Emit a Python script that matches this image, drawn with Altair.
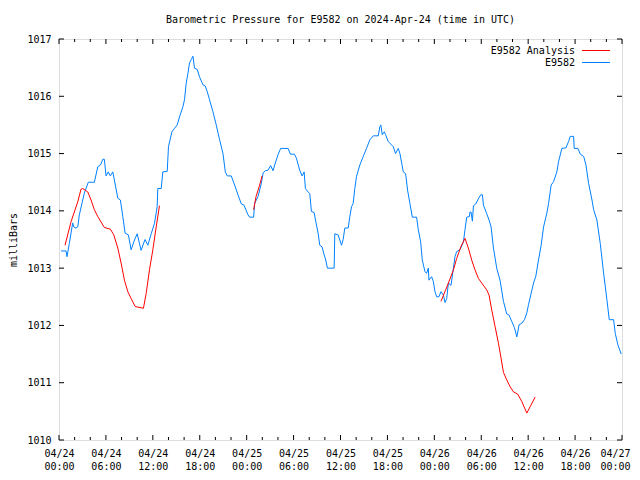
import altair as alt
import pandas as pd

# ---- data (hours since 2024-04-24 00:00 UTC, pressure in mb) ----
blue_hours = [0.26, 0.9, 1.02, 1.32, 1.75, 1.88, 2.18, 2.4, 2.6, 3.04, 3.24, 3.75, 4.52, 4.96, 5.3, 5.6, 5.8,
              6.02, 6.3, 6.57, 6.88, 7.08, 7.52, 7.85, 8.16, 8.46, 8.88, 9.22, 9.65, 10.0, 10.5, 11.0, 11.36,
              11.79, 12.21, 12.55, 12.64, 13.07, 13.28, 13.84, 14.0, 14.44, 14.77, 15.12, 15.41, 15.85, 16.05,
              16.27, 16.49, 16.69, 16.91, 17.13, 17.33, 17.68, 17.97, 18.41, 18.7, 18.96, 19.25, 19.69, 20.11,
              20.54, 20.97, 21.27, 21.52, 22.03, 22.46, 22.89, 23.32, 23.66, 24.17, 24.38, 24.89, 25.02, 25.45,
              25.88, 26.1, 26.39, 26.73, 27.07, 27.37, 27.58, 28.01, 28.35, 29.3, 29.59, 30.1, 30.36, 30.78,
              31.09, 31.35, 31.51, 31.86, 32.07, 32.28, 32.63, 32.8, 33.14, 33.35, 33.65, 33.91, 34.08, 34.33,
              35.19, 35.27, 35.7, 36.13, 36.34, 36.55, 36.99, 37.19, 37.41, 37.62, 37.83, 38.05, 38.47, 38.91,
              39.33, 39.75, 40.19, 40.83, 41.03, 41.16, 41.34, 41.6, 41.76, 42.11, 42.75, 43.04, 43.39, 43.6,
              44.03, 44.33, 44.58, 44.88, 45.18, 45.73, 45.95, 46.25, 46.46, 46.8, 47.01, 47.23, 47.31, 47.65,
              47.87, 48.08, 48.3, 48.59, 48.85, 49.16, 49.37, 49.58, 49.8, 50.13, 50.44, 50.64, 50.86, 51.28,
              51.72, 51.92, 52.14, 52.48, 52.56, 52.69, 52.87, 53.0, 53.3, 53.55, 53.93, 54.15, 54.28, 54.7,
              55.0, 55.26, 55.56, 55.98, 56.4, 56.84, 57.26, 57.56, 57.9, 58.25, 58.55, 58.84, 59.19, 59.53,
              59.83, 60.04, 60.38, 60.69, 60.98, 61.32, 61.66, 61.97, 62.39, 62.61, 62.94, 63.25, 63.67, 63.89,
              64.31, 64.83, 65.17, 65.38, 65.81, 65.89, 66.36, 66.66, 67.1, 67.39, 67.73, 68.16, 68.37, 68.79,
              69.22, 69.65, 70.07, 70.37, 70.93, 71.14, 71.48, 71.9]
blue_mb = [1013.30, 1013.30, 1013.20, 1013.43, 1013.79, 1013.72, 1013.70, 1013.72, 1013.93, 1014.19, 1014.31,
           1014.50, 1014.50, 1014.77, 1014.80, 1014.90, 1014.90, 1014.61, 1014.68, 1014.61, 1014.68, 1014.54,
           1014.22, 1014.19, 1013.90, 1013.61, 1013.58, 1013.32, 1013.49, 1013.60, 1013.31, 1013.50, 1013.40,
           1013.60, 1013.78, 1014.07, 1014.39, 1014.39, 1014.68, 1014.69, 1015.12, 1015.38, 1015.44, 1015.50,
           1015.64, 1015.82, 1015.94, 1016.23, 1016.40, 1016.58, 1016.64, 1016.70, 1016.49, 1016.47, 1016.34,
           1016.20, 1016.18, 1016.08, 1015.94, 1015.73, 1015.50, 1015.24, 1015.00, 1014.68, 1014.61, 1014.61,
           1014.45, 1014.28, 1014.12, 1014.10, 1013.93, 1013.89, 1013.89, 1014.13, 1014.25, 1014.48, 1014.66,
           1014.70, 1014.71, 1014.79, 1014.70, 1014.80, 1014.98, 1015.09, 1015.09, 1014.99, 1014.99, 1014.92,
           1014.71, 1014.61, 1014.68, 1014.39, 1014.33, 1014.30, 1013.99, 1013.97, 1013.84, 1013.61, 1013.40,
           1013.37, 1013.23, 1013.16, 1013.00, 1013.00, 1013.60, 1013.58, 1013.40, 1013.50, 1013.70, 1013.70,
           1013.90, 1014.07, 1014.13, 1014.39, 1014.60, 1014.80, 1014.95, 1015.09, 1015.24, 1015.31, 1015.31,
           1015.47, 1015.50, 1015.33, 1015.38, 1015.33, 1015.21, 1015.12, 1015.00, 1015.09, 1015.00, 1014.68,
           1014.65, 1014.36, 1014.13, 1013.89, 1013.89, 1013.67, 1013.46, 1013.14, 1012.94, 1012.91, 1013.00,
           1012.79, 1012.85, 1012.77, 1012.59, 1012.50, 1012.50, 1012.59, 1012.53, 1012.40, 1012.47, 1012.74,
           1012.70, 1013.00, 1013.20, 1013.29, 1013.32, 1013.46, 1013.67, 1013.89, 1013.90, 1013.98, 1013.98,
           1013.82, 1014.09, 1014.12, 1014.19, 1014.28, 1014.28, 1014.10, 1013.95, 1013.84, 1013.72, 1013.35,
           1013.00, 1012.79, 1012.42, 1012.20, 1012.18, 1012.07, 1011.96, 1011.80, 1012.01, 1012.04, 1012.10,
           1012.22, 1012.36, 1012.56, 1012.74, 1012.86, 1013.14, 1013.40, 1013.72, 1013.96, 1014.13, 1014.45,
           1014.51, 1014.68, 1014.86, 1015.09, 1015.10, 1015.21, 1015.30, 1015.30, 1015.09, 1015.09, 1014.99,
           1014.95, 1014.80, 1014.48, 1014.19, 1014.02, 1013.84, 1013.43, 1012.91, 1012.45, 1012.10, 1012.10,
           1011.86, 1011.66, 1011.50]

red_hours = [0.77, 1.54, 2.4, 2.82, 3.04, 3.68, 4.1, 4.52, 4.96, 5.8, 6.57, 7.01, 7.52, 7.94, 8.37, 8.8, 9.22,
             9.74, 10.8, 11.15, 11.57, 12.0, 12.43, 12.85,
             24.89, 25.2, 25.66, 25.97,
             48.85, 49.8, 50.44, 50.86, 51.41, 51.92, 52.35, 52.78, 53.2, 53.64, 54.06, 54.7, 55.0, 55.34,
             55.77, 56.2, 56.53, 56.84, 57.26, 57.69, 58.12, 58.67, 59.19, 59.83, 60.25, 60.89]
red_mb = [1013.40, 1013.81, 1014.16, 1014.38, 1014.39, 1014.33, 1014.19, 1014.02, 1013.90, 1013.71, 1013.68,
          1013.58, 1013.35, 1013.09, 1012.79, 1012.59, 1012.47, 1012.33, 1012.30, 1012.56, 1012.97, 1013.32,
          1013.72, 1014.09,
          1014.02, 1014.25, 1014.45, 1014.61,
          1012.42, 1012.74, 1012.97, 1013.17, 1013.38, 1013.52, 1013.35, 1013.14, 1012.97, 1012.82, 1012.74,
          1012.62, 1012.53, 1012.27, 1011.98, 1011.69, 1011.43, 1011.18, 1011.05, 1010.93, 1010.84, 1010.80,
          1010.67, 1010.47, 1010.58, 1010.75]
red_segment = [1] * 24 + [2] * 4 + [3] * 26

series_names = ["E9582 Analysis", "E9582"]
series_colors = ["#ff0000", "#0080ff"]

x_major = list(range(0, 73, 6))
x_minor = [h for h in range(0, 73, 2) if h % 6 != 0]
y_ticks = list(range(1010, 1018))

W, H = 563, 401
FONT = "DejaVu Sans Mono"

blue_df = pd.DataFrame({"h": blue_hours, "mb": blue_mb})
red_df = pd.DataFrame({"h": red_hours, "mb": red_mb, "seg": red_segment})
xmaj_df = pd.DataFrame({"h": x_major})
xmin_df = pd.DataFrame({"h": x_minor})
y_df = pd.DataFrame({"mb": y_ticks})

xscale = alt.Scale(domain=[0, 72], nice=False, zero=False)
yscale = alt.Scale(domain=[1010, 1017], nice=False, zero=False)

label_expr = ("['04/' + (24 + floor(datum.value / 24)), "
              "(datum.value % 24 < 10 ? '0' : '') + (datum.value % 24) + ':00']")

x_axis = alt.Axis(values=x_major, labelExpr=label_expr, ticks=False, grid=False, domain=False,
                  title=None, labelFont=FONT, labelFontSize=10, labelColor="black",
                  labelBaseline="top", labelPadding=8, labelLineHeight=13, labelAlign="center",
                  labelOffset={"condition": {"test": "datum.value == 72", "value": -7}, "value": 0},
                  labelFlush=False, labelOverlap=False, labelBound=False)
y_axis = alt.Axis(values=y_ticks, format="d", ticks=False, grid=False, domain=False,
                  title="milliBars", titleFont=FONT, titleFontSize=10, titleFontWeight="normal",
                  titleColor="black", titlePadding=8, labelFont=FONT, labelFontSize=10,
                  labelColor="black", labelPadding=8, labelFlush=False)

base_blue = alt.Chart(blue_df).mark_line(color=series_colors[1], strokeWidth=1).encode(
    x=alt.X("h:Q", scale=xscale, axis=x_axis),
    y=alt.Y("mb:Q", scale=yscale, axis=y_axis),
)
red = alt.Chart(red_df).mark_line(color=series_colors[0], strokeWidth=1).encode(
    x=alt.X("h:Q", scale=xscale),
    y=alt.Y("mb:Q", scale=yscale),
    detail="seg:N",
)

def xticks(df, length):
    bottom = alt.Chart(df).mark_rule(color="black", strokeWidth=1).encode(
        x=alt.X("h:Q", scale=xscale), y=alt.value(H), y2=alt.value(H - length))
    top = alt.Chart(df).mark_rule(color="black", strokeWidth=1).encode(
        x=alt.X("h:Q", scale=xscale), y=alt.value(0), y2=alt.value(length))
    return [bottom, top]

yleft = alt.Chart(y_df).mark_rule(color="black", strokeWidth=1).encode(
    y=alt.Y("mb:Q", scale=yscale), x=alt.value(0), x2=alt.value(5))
yright = alt.Chart(y_df).mark_rule(color="black", strokeWidth=1).encode(
    y=alt.Y("mb:Q", scale=yscale), x=alt.value(W), x2=alt.value(W - 5))

legend_layers = []
for i, (name, col) in enumerate(zip(series_names, series_colors)):
    ypos = 11.5 + 12 * i
    ldf = pd.DataFrame({"name": [name]})
    legend_layers.append(
        alt.Chart(ldf).mark_text(align="right", baseline="middle", font=FONT, fontSize=10,
                                 color="black").encode(
            text="name:N", x=alt.value(516), y=alt.value(ypos)))
    legend_layers.append(
        alt.Chart(ldf).mark_rule(strokeWidth=1, color=col).encode(
            x=alt.value(523), x2=alt.value(551), y=alt.value(ypos)))

layers = [base_blue, red] + xticks(xmaj_df, 5) + xticks(xmin_df, 3) + [yleft, yright] + legend_layers

chart = alt.layer(*layers).properties(
    width=W, height=H,
    title=alt.TitleParams("Barometric Pressure for E9582 on 2024-Apr-24 (time in UTC)",
                          font=FONT, fontSize=10, fontWeight="normal", color="black",
                          anchor="middle", offset=9),
    autosize=alt.AutoSizeParams(type="none"),
    padding={"left": 51, "top": 31, "right": 10, "bottom": 32},
).configure_view(stroke="black", strokeWidth=1).configure(background="white")

chart.save("out.html", embed_options={"renderer": "svg", "actions": False})
